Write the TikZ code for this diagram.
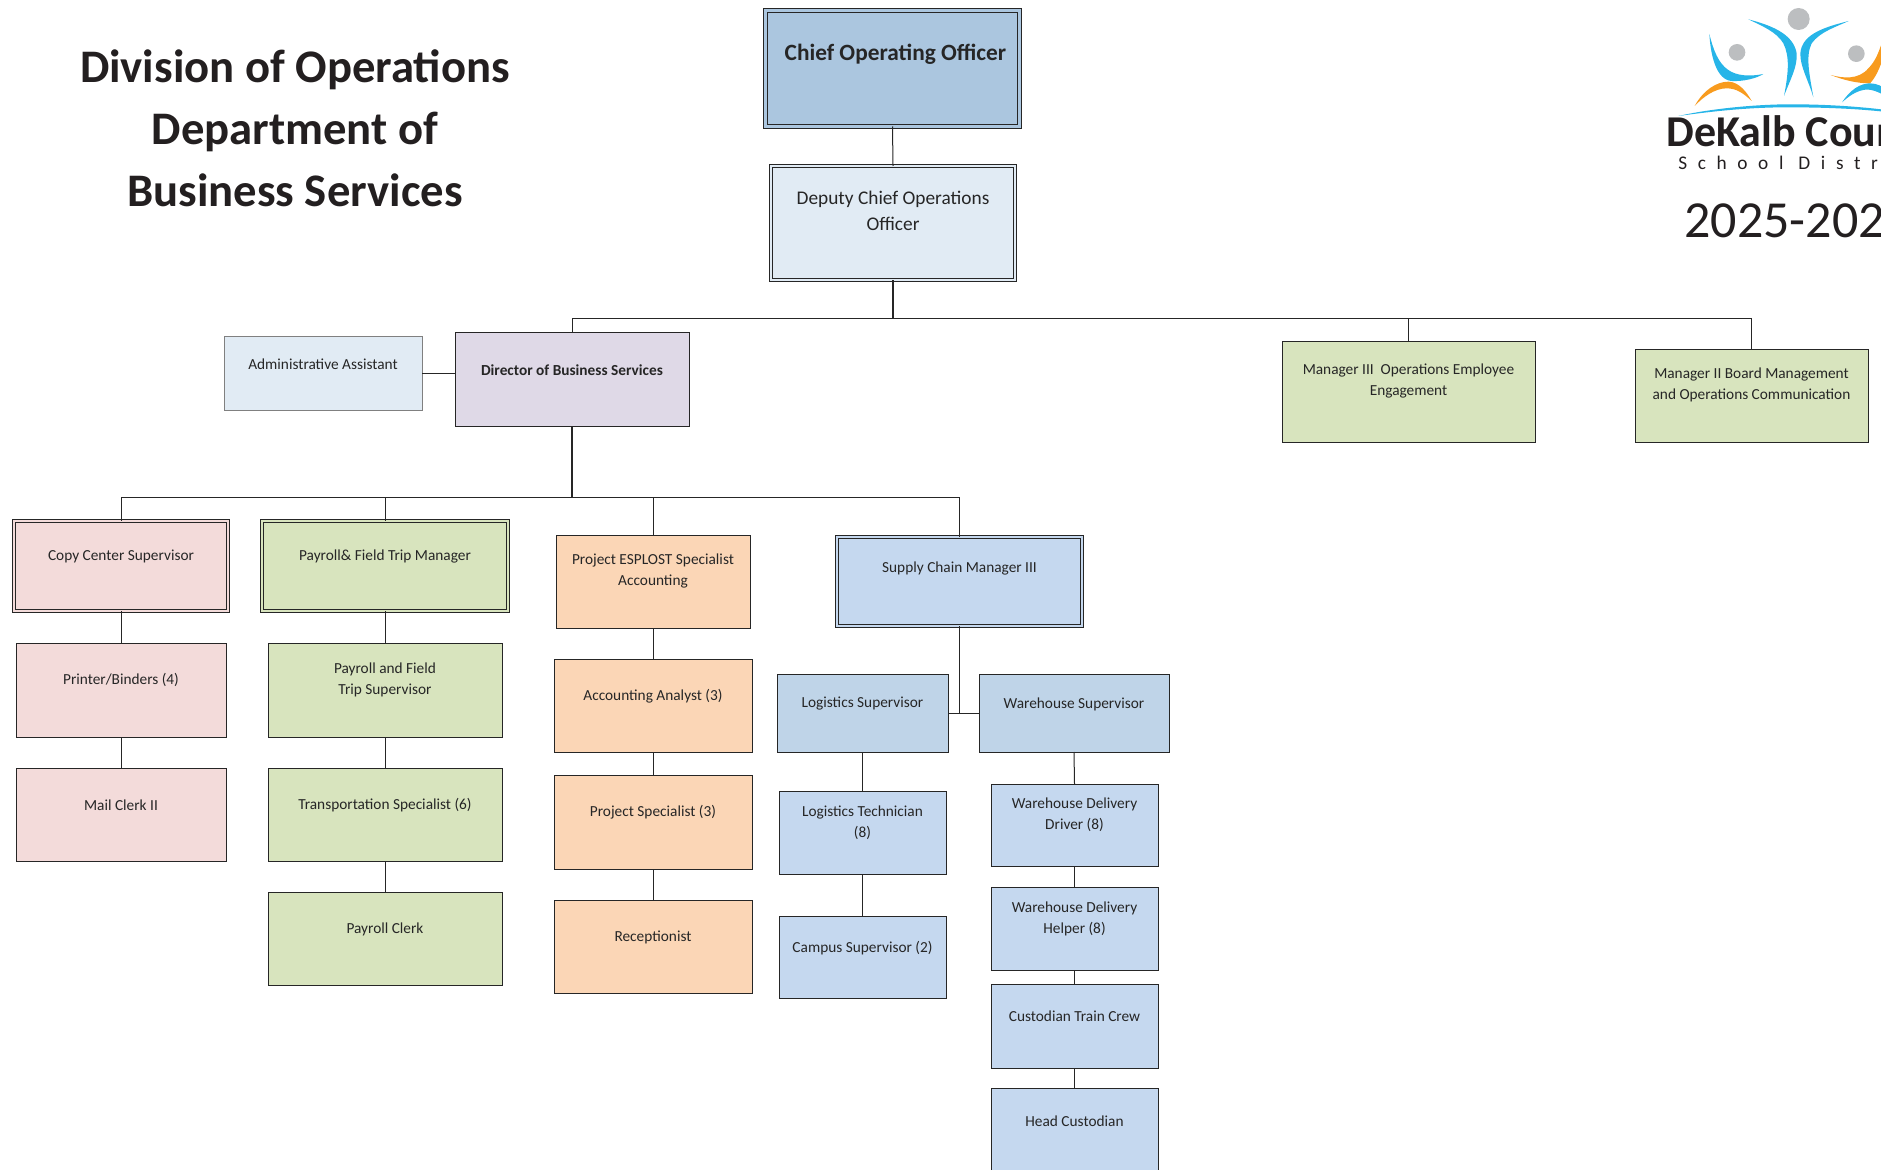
\documentclass[tikz,border=0pt]{standalone}
\usepackage{fontspec}
\setmainfont{Carlito}
\definecolor{ink}{HTML}{262626}
\definecolor{cooF}{HTML}{ABC6DF}
\definecolor{depF}{HTML}{E1EBF4}
\definecolor{purF}{HTML}{DFD9E7}
\definecolor{grnF}{HTML}{D8E4BE}
\definecolor{pnkF}{HTML}{F3DBDA}
\definecolor{orgF}{HTML}{FBD6B6}
\definecolor{bluF}{HTML}{C5D8EF}
\definecolor{bl2F}{HTML}{BFD4E8}
\definecolor{logoB}{HTML}{27B5E8}
\definecolor{logoO}{HTML}{F89B1E}
\definecolor{logoG}{HTML}{BCBEC0}
\definecolor{logoK}{HTML}{231F20}
\tikzset{
  box/.style={draw=ink,line width=0.75pt,inner sep=0pt,outer sep=0pt},
  dbl/.style={box,line width=0.7pt,double distance=1.7pt},
  dblB/.style={box,line width=1pt,double distance=1.7pt},
  lbl/.style={inner sep=0pt,align=center,text=ink,font=\fontsize{11.5}{15.5}\selectfont},
  lblM/.style={lbl,font=\fontsize{14.5}{19}\selectfont},
  lblB/.style={lbl,font=\fontsize{11.5}{15.5}\selectfont\bfseries},
  lblC/.style={lbl,font=\fontsize{17.5}{21}\selectfont\bfseries},
  titleT/.style={inner sep=0pt,align=center,text=logoK,font=\fontsize{35}{46.5}\selectfont\bfseries},
  conn/.style={draw=ink,line width=0.75pt},
  connB/.style={draw=ink,line width=1.2pt},
}
\newcommand\bx[8]{%
  \node[#2,minimum width={(#5-#3)*0.75pt},minimum height={(#6-#4)*0.75pt}] (#1) at ({(#3+#5)/2},{(#4+#6)/2}) {};
  \node[lbl] (#1t) at ({(#3+#5)/2},#7) {#8};}
\begin{document}
\begin{tikzpicture}[x=0.75pt,y=-0.75pt]
\useasboundingbox (0,0) rectangle (1881,1170);
\clip (0,0) rectangle (1881,1170);
% title
\node[titleT] (title) at (295,128.5) {Division of Operations\\Department of\\Business Services};
% top
\node[dbl,double=cooF,fill=cooF,minimum width={254*0.75pt},minimum height={116*0.75pt}] (coo) at (892.5,68.5) {};
\node[lblC] (coot) at (895.5,54) {Chief Operating Officer};
\node[dblB,double=depF,fill=depF,minimum width={244*0.75pt},minimum height={114*0.75pt}] (dep) at (893,223) {};
\node[lblM] (dept) at (893,211) {Deputy Chief Operations\\Officer};
\bx{adm}{box,draw=gray,fill=depF}{224}{336}{422}{410}{364}{Administrative Assistant}
\bx{dir}{box,fill=purF}{455}{332}{689}{426}{370}{}
\node[lblB] (dirl) at (572,370) {Director of Business Services};
\bx{m3}{box,fill=grnF}{1282}{341}{1535}{442}{381}{Manager III~ Operations Employee\\Engagement}
\bx{m2}{box,fill=grnF}{1635}{349}{1868}{442}{385}{Manager II Board Management\\and Operations Communication}
% level 3
\node[dbl,double=pnkF,fill=pnkF,minimum width={214*0.75pt},minimum height={90*0.75pt}] (cc) at (121,566) {};
\node[lbl] (cct) at (121,556) {Copy Center Supervisor};
\node[dbl,double=grnF,fill=grnF,minimum width={246*0.75pt},minimum height={90*0.75pt}] (pm) at (385,566) {};
\node[lbl] (pmt) at (385,556) {Payroll\& Field Trip Manager};
\bx{esp}{box,fill=orgF}{556}{535}{750}{628}{571}{Project ESPLOST Specialist\\Accounting}
\node[dbl,double=bluF,fill=bluF,minimum width={245*0.75pt},minimum height={89*0.75pt}] (sc) at (959.5,581.5) {};
\node[lbl] (sct) at (959.5,568) {Supply Chain Manager III};
% pink
\bx{pb}{box,fill=pnkF}{16}{643}{226}{737}{680}{Printer/Binders (4)}
\bx{mc}{box,fill=pnkF}{16}{768}{226}{861}{805}{Mail Clerk II}
% green
\bx{ps}{box,fill=grnF}{268}{643}{502}{737}{680}{Payroll and Field\\Trip Supervisor}
\bx{ts}{box,fill=grnF}{268}{768}{502}{861}{805}{Transportation Specialist (6)}
\bx{pc}{box,fill=grnF}{268}{892}{502}{985}{929}{Payroll Clerk}
% orange
\bx{aa}{box,fill=orgF}{554}{659}{752}{752}{696}{Accounting Analyst (3)}
\bx{sp}{box,fill=orgF}{554}{775}{752}{869}{812}{Project Specialist (3)}
\bx{rc}{box,fill=orgF}{554}{900}{752}{993}{937}{Receptionist}
% blue
\bx{ls}{box,fill=bl2F}{777}{674}{948}{752}{704}{Logistics Supervisor}
\bx{ws}{box,fill=bl2F}{979}{674}{1169}{752}{704}{Warehouse Supervisor}
\bx{lt}{box,fill=bluF}{779}{791}{946}{874}{823}{Logistics Technician\\(8)}
\bx{cs}{box,fill=bluF}{779}{916}{946}{998}{948}{Campus Supervisor (2)}
\bx{wd}{box,fill=bluF}{991}{784}{1158}{866}{815}{Warehouse Delivery\\Driver (8)}
\bx{wh}{box,fill=bluF}{991}{887}{1158}{970}{919}{Warehouse Delivery\\Helper (8)}
\bx{ct}{box,fill=bluF}{991}{984}{1158}{1068}{1016}{Custodian Train Crew}
\bx{hc}{box,fill=bluF}{991}{1088}{1158}{1190}{1121}{Head Custodian}
% junctions
\coordinate (busA) at (893,318);
\coordinate (busB) at (571,497);
\coordinate (jn) at (959.5,713);
% connectors
\draw[conn] (coo.south) -- (dep.north);
\draw[connB] (dep.south) -- (dep.south|-busA);
\draw[conn] (dep.south|-busA) -| (dir.north);
\draw[conn] (dep.south|-busA) -| (m3.north);
\draw[conn] (dep.south|-busA) -| (m2.north);
\draw[conn] (adm.east) -- (dir.west|-adm.east);
\draw[connB] (dir.south) -- (dir.south|-busB);
\draw[conn] (dir.south|-busB) -| (cc.north);
\draw[conn] (dir.south|-busB) -| (pm.north);
\draw[conn] (dir.south|-busB) -| (esp.north);
\draw[conn] (dir.south|-busB) -| (sc.north);
\draw[conn] (cc.south) -- (pb.north);
\draw[conn] (pb.south) -- (mc.north);
\draw[conn] (pm.south) -- (ps.north);
\draw[conn] (ps.south) -- (ts.north);
\draw[conn] (ts.south) -- (pc.north);
\draw[conn] (esp.south) -- (aa.north);
\draw[conn] (aa.south) -- (sp.north);
\draw[conn] (sp.south) -- (rc.north);
\draw[conn] (sc.south) -- (jn);
\draw[conn] (ls.east) -- (ws.west);
\draw[conn] (ls.south) -- (lt.north);
\draw[conn] (lt.south) -- (cs.north);
\draw[conn] (ws.south) -- (wd.north);
\draw[conn] (wd.south) -- (wh.north);
\draw[conn] (wh.south) -- (ct.north);
\draw[conn] (ct.south) -- (hc.north);
% logo
\begin{scope}[shift={(1620,0)},scale=1/3]
\fill[logoG] (536,57) circle (33);
\fill[logoG] (351,157) circle (25);
\fill[logoG] (709,161) circle (25);
\fill[logoB] (385,58) .. controls (450,75) and (520,100) .. (530,160) .. controls (533,200) and (510,240) .. (492,288) .. controls (505,220) and (510,170) .. (490,130) .. controls (470,95) and (420,75) .. (385,58) -- cycle;
\fill[logoB] (686,63) .. controls (620,80) and (545,100) .. (541,160) .. controls (540,200) and (565,240) .. (580,292) .. controls (570,230) and (555,170) .. (575,130) .. controls (600,95) and (650,80) .. (686,63) -- cycle;
\fill[logoB] (268,102) .. controls (272,170) and (290,240) .. (335,243) .. controls (370,245) and (410,235) .. (430,222) .. controls (390,230) and (350,228) .. (325,210) .. controls (295,190) and (280,150) .. (268,102) -- cycle;
\fill[logoO] (224,318) .. controls (250,270) and (290,245) .. (325,245) .. controls (355,245) and (380,275) .. (395,303) .. controls (370,280) and (350,265) .. (320,265) .. controls (285,265) and (250,290) .. (224,318) -- cycle;
\fill[logoO] (632,225) .. controls (670,235) and (715,240) .. (745,205) .. controls (765,185) and (775,160) .. (785,130) -- (800,130) -- (790,170) .. controls (780,205) and (765,235) .. (750,250) .. controls (710,250) and (670,240) .. (632,225) -- cycle;
\fill[logoB] (666,307) .. controls (690,270) and (720,250) .. (750,250) .. controls (770,250) and (790,260) .. (800,270) -- (800,290) .. controls (775,275) and (750,265) .. (730,270) .. controls (705,275) and (685,290) .. (666,307) -- cycle;
\fill[logoB] (175,348) .. controls (300,320) and (450,312) .. (520,313) .. controls (620,313) and (720,320) .. (800,330) -- (800,336) .. controls (700,325) and (600,322) .. (500,322) .. controls (380,322) and (270,335) .. (175,348) -- cycle;
\end{scope}
\node[anchor=base west,inner sep=0pt,text=logoK,font=\fontsize{33}{36}\selectfont\bfseries] (dk) at (1666,147) {DeKalb County};
\node[anchor=base west,inner sep=0pt,text=logoK,font=\fontsize{14.5}{16}\selectfont\addfontfeature{LetterSpace=55}] (sd) at (1678,170) {School District};
\node[anchor=base west,inner sep=0pt,text=logoK,font=\fontsize{39}{42}\selectfont] (yr) at (1684,237) {2025-2026};
\end{tikzpicture}
\end{document}
